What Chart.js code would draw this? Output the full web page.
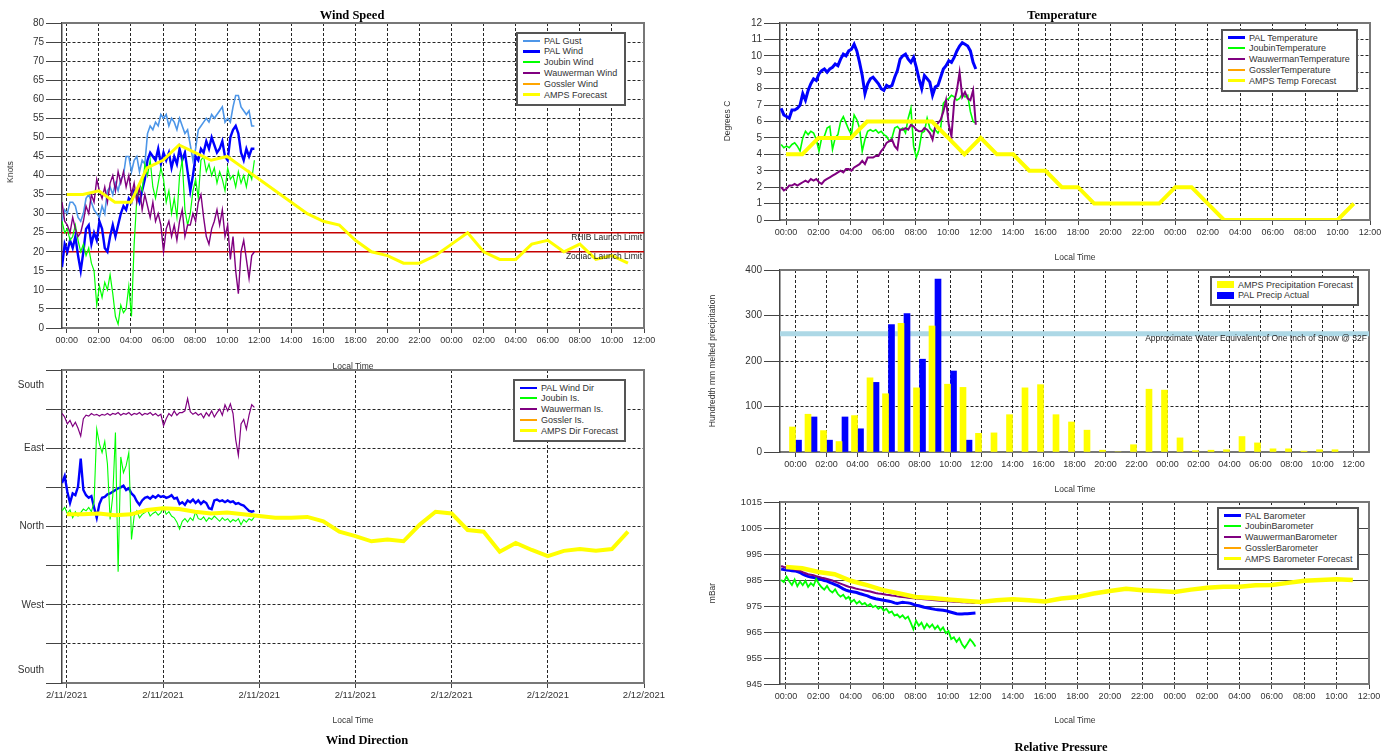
<!DOCTYPE html>
<html>
<head>
<meta charset="utf-8">
<title>Station Weather</title>
<script src="https://cdn.jsdelivr.net/npm/chart.js@4.4.1/dist/chart.umd.min.js"></script>
<style>
  body { margin: 0; background: #fff; font-family: "Liberation Sans", Arial, sans-serif; }
  #page { position: relative; width: 1389px; height: 753px; overflow: hidden; }
  #page canvas { position: absolute; left: 0; top: 0; }
  .title { position: absolute; transform: translate(-50%, -50%); font: bold 12.5px "Liberation Serif", "Times New Roman", serif; color: #000; white-space: nowrap; }
  .axis-title { position: absolute; transform: translate(-50%, -50%); font-size: 8.5px; color: #333; white-space: nowrap; }
  .axis-title.vertical { transform: translate(-50%, -50%) rotate(-90deg); }
  .legend { position: absolute; box-sizing: border-box; border: 2px solid #555; background: #fff; padding: 1.3px 0 0 5px; font-size: 9px; color: #333; }
  .legend .row { height: 10.8px; display: flex; align-items: center; white-space: nowrap; }
  .legend .swatch { display: inline-block; width: 17px; margin-right: 4px; flex: none; }
</style>
</head>
<body>
<div id="page">
  <canvas id="windSpeed" width="1389" height="753"></canvas>
  <canvas id="windDir" width="1389" height="753"></canvas>
  <canvas id="temperature" width="1389" height="753"></canvas>
  <canvas id="precip" width="1389" height="753"></canvas>
  <canvas id="pressure" width="1389" height="753"></canvas>

  <div class="title" style="left:352px;top:15px">Wind Speed</div>
  <div class="title" style="left:1062px;top:15px">Temperature</div>
  <div class="title" style="left:367px;top:740px">Wind Direction</div>
  <div class="title" style="left:1061px;top:747px">Relative Pressure</div>

  <div class="axis-title" style="left:353px;top:366px">Local Time</div>
  <div class="axis-title" style="left:353px;top:720px">Local Time</div>
  <div class="axis-title" style="left:1075px;top:257px">Local Time</div>
  <div class="axis-title" style="left:1075px;top:489px">Local Time</div>
  <div class="axis-title" style="left:1075px;top:720px">Local Time</div>

  <div class="axis-title vertical" style="left:10px;top:172px">Knots</div>
  <div class="axis-title vertical" style="left:727px;top:121px">Degrees C</div>
  <div class="axis-title vertical" style="left:712px;top:361px">Hundredth mm melted precipitation</div>
  <div class="axis-title vertical" style="left:712px;top:593px">mBar</div>
</div>

<script>
// Station observations, one sample every 10 minutes from 23:42 (hours since 00:00 on 2/11)
const OBS_START = -0.3;
const OBS_STEP = 1 / 6;

const palGust = [28,31,30,33,33,32,29,28,30,34, 35,33,31,30,29,32,30,36,37,35,
  38,36,39,40,45,45,41,44,45,41, 44,43,51,53,52,54,53,56,55,56,
  53,55,54,52,55,53,51,52,48,44, 47,52,53,54,55,54,56,55,56,57,
  58,54,55,54,58,61,61,58,57,56, 57,53,53];
const palWind = [16,22,20,23,21,24,19,15,20,26, 27,22,25,23,28,26,21,20,24,27,
  24,27,30,32,31,34,33,36,35,33, 36,39,44,46,45,44,47,43,46,44,
  46,42,45,43,47,44,46,41,36,40, 45,44,47,46,49,47,50,48,46,47,
  49,45,44,50,52,53,51,46,44,47, 45,47,47];
const joubinWind = [28,25,26,23,24,27,23,20,22,19, 21,17,15,6,11,8,12,10,14,9,
  3,1,6,4,5,11,3,22,34,38, 36,43,40,44,37,34,38,42,39,33,
  36,30,34,29,40,44,31,27,30,36, 39,34,44,45,41,43,40,42,38,41,
  39,36,42,39,40,37,41,38,40,37, 41,39,44];
const wauwermanWind = [33,28,27,25,29,26,24,25,28,32, 30,35,33,39,36,34,37,33,38,40,
  36,41,38,41,37,40,35,38,33,37, 31,35,32,29,33,28,30,27,20,26,
  28,24,27,23,28,31,24,27,27,30, 28,33,35,29,24,22,26,28,31,27,
  31,24,27,18,24,15,9,20,23,18, 13,19,20];

const palDir = [50,58,40,27,38,36,46,78,42,36, 33,35,22,10,26,33,34,37,38,40,
  42,44,45,47,42,44,38,35,29,25, 30,33,34,32,35,33,36,34,35,33,
  34,36,32,33,26,28,25,30,28,31, 27,30,26,29,27,21,20,30,31,29,
  30,28,30,28,29,26,27,25,24,21, 18,17,18];
const joubinDir = [18,22,15,19,10,17,12,16,20,18, 22,17,28,112,95,85,98,72,8,35,
  108,-52,80,62,70,85,-15,12,18,10, 14,16,19,12,15,17,13,16,23,14,
  17,12,10,5,-3,6,9,5,10,7, 17,9,8,11,6,10,8,12,9,6,
  10,7,9,5,8,6,9,2,8,5, 9,7,11];
const wauwermanDir = [130,126,118,122,115,120,113,104,124,128, 127,130,128,129,127,129,128,130,128,130,
  129,131,128,130,129,131,128,130,129,131, 128,130,129,131,128,130,127,129,116,124,
  130,127,133,128,131,131,133,147,132,129, 131,128,130,125,131,127,133,126,131,135,
  128,140,133,141,130,100,82,118,123,112, 128,140,137];

const palTemp = [6.8,6.4,6.3,6.2,6.7,6.7,6.8,7.0,7.7,7.3, 7.9,8.3,8.6,8.5,8.9,9.1,9.2,9.0,9.2,9.3,
  9.5,9.4,9.8,10.1,10.0,10.3,10.4,10.7,10.3,9.6, 8.8,7.7,8.3,8.6,8.7,8.5,8.3,8.0,7.9,8.2,
  8.1,8.2,8.7,9.1,9.8,10.0,10.1,9.8,9.6,9.9, 9.3,8.6,8.0,8.8,8.6,8.4,7.6,8.1,8.2,8.7,
  9.2,9.4,9.7,9.6,9.9,10.3,10.6,10.8,10.7,10.6, 10.3,9.6,9.2];
const joubinTemp = [4.6,4.4,4.5,4.4,4.6,4.7,4.5,4.2,5.0,5.4, 5.2,5.4,5.3,4.9,4.2,5.0,5.1,5.6,5.7,4.3,
  5.0,5.2,6.0,6.3,5.9,5.5,5.2,6.4,6.1,5.6, 4.2,4.9,5.4,5.5,5.4,5.5,5.3,5.4,5.2,5.1,
  4.8,5.0,5.6,5.7,5.5,5.6,5.3,6.2,6.8,4.5, 3.8,4.3,5.3,5.4,6.2,5.6,5.4,5.5,5.3,5.6,
  7.1,7.3,7.4,7.6,7.5,7.3,7.4,7.7,7.5,7.6, 6.6,6.0,5.9];
const wauwermanTemp = [2.0,1.8,1.9,2.1,2.1,2.2,2.1,2.2,2.3,2.4, 2.3,2.5,2.4,2.5,2.3,2.2,2.4,2.5,2.6,2.7,
  2.8,2.9,3.0,2.9,3.1,3.1,3.0,3.2,3.3,3.4, 3.6,3.4,3.8,3.8,3.8,3.9,3.9,4.2,4.4,4.7,
  4.8,4.9,4.5,4.3,5.5,5.5,5.6,5.5,5.8,5.7, 5.5,5.4,5.4,5.6,5.5,5.3,4.9,5.7,5.9,6.1,
  6.6,7.3,5.8,5.1,7.2,7.9,9.0,7.5,7.8,7.4, 7.3,7.9,5.8];

const palBaro = [989.2,989.0,988.8,988.7,988.6,988.5,988.2,987.9,987.2,986.8,
  986.4,986.1,986.0,985.7,985.5,985.2,984.8,984.6,984.1,983.7,
  983.2,982.8,982.2,981.6,981.1,980.8,980.6,980.4,980.2,979.8,
  979.5,979.2,978.9,978.4,978.1,977.8,977.6,977.4,977.2,977.0,
  976.8,976.6,976.2,976.0,976.2,976.4,976.3,976.2,976.0,975.6,
  975.3,975.1,974.8,974.5,974.3,974.1,973.9,973.7,973.6,973.5,
  973.4,973.2,972.9,972.6,972.3,972.0,971.9,971.9,972.0,972.0,
  972.1,972.2,972.3];
const joubinBaro = [985.0,984.2,986.3,984.5,983.1,985.2,982.6,984.4,983.0,984.7,
  982.3,983.8,982.8,985.4,983.5,982.2,981.3,982.7,981.0,980.2,
  981.4,979.6,978.6,979.3,977.8,978.5,976.6,977.4,975.9,976.8,
  975.6,976.2,975.0,975.8,974.6,975.1,973.9,974.6,973.2,973.9,
  972.4,972.9,971.3,971.8,970.6,971.4,970.1,970.9,968.6,966.0,
  969.3,967.4,968.6,966.3,968.1,966.8,967.9,966.2,967.4,965.6,
  966.8,964.6,965.4,962.3,963.0,961.2,962.6,960.3,958.9,960.5,
  962.2,961.0,959.4];
const wauwermanBaro = [990.4,990.0,989.9,989.6,989.4,989.0,988.8,988.6,988.0,987.6,
  987.2,987.0,986.8,986.5,986.2,985.9,985.7,985.4,985.1,984.8,
  984.4,984.0,983.6,983.2,982.8,982.4,982.2,981.9,981.6,981.4,
  981.2,981.0,980.8,980.6,980.3,980.0,979.8,979.7,979.5,979.3,
  979.2,979.0,978.9,978.7,978.6,978.5,978.4,978.2,978.1,978.0,
  977.9,977.8,977.7,977.6,977.5,977.4,977.3,977.2,977.1,977.0,
  976.9,976.9,976.8,976.7,976.6,976.6,976.5,976.4,976.4,976.3,
  976.3,976.2,976.2];

// AMPS forecast, hourly
const forecastHours = [0,1,2,3,4,5,6,7,8,9,10,11,12,13,14,15,16,17,18,19,20,21,22,23,24,25,26,27,28,29,30,31,32,33,34,35];
const windForecast = [35,35,36,33,33,42,44,48,46,44, 45,42,39,36,33,30,28,27,23,20, 19,17,17,19,22,25,20,18,18,22, 23,20,22,18,19,17];
const dirForecast = [14,14,15,13,14,19,21,20,17,15, 16,14,12,10,10,11,6,-6,-11,-17, -15,-17,2,17,15,-4,-6,-29,-19,-27, -34,-28,-26,-28,-26,-6];
const tempForecast = [4,4,5,5,5,6,6,6,6,6, 5,4,5,4,4,3,3,2,2,1, 1,1,1,1,2,2,1,0,0,0, 0,0,0,0,0,1];
const baroForecast = [990.0,989.5,988.1,987.2,984.7,983.0,981.1,979.8,978.5,978.1,
  977.5,977.0,976.5,977.2,977.6,977.2,976.7,977.9,978.5,979.8,
  980.8,981.6,981.1,980.8,980.4,981.3,982.0,982.4,982.4,983.0,
  983.1,983.9,984.7,985.0,985.3,985.0];
const precipForecast = [55,83,47,23,80,163,128,283,141,277, 149,142,41,42,82,141,148,82,66,48, 4,0,16,138,136,31,3,4,5,34, 20,7,7,2,5,5];
const precipHours = [0,1,2,3,4,5,6,7,8,9,10,11];
const precipActual = [26,77,26,77,51,153,280,304,204,380,178,26];

const launchLimits = [25, 20];
const launchLimitNames = ['RHIB Launch Limit', 'Zodiac Launch Limit'];
const snowEquivalent = 260;
const snowNote = 'Approximate Water Equivalent of One Inch of Snow @ 32F';

// axis ticks
const hourTicks = [0,2,4,6,8,10,12,14,16,18,20,22,24,26,28,30,32,34,36];
const hourLabels = ['00:00','02:00','04:00','06:00','08:00','10:00','12:00','14:00','16:00','18:00',
  '20:00','22:00','00:00','02:00','04:00','06:00','08:00','10:00','12:00'];
const dateTicks = [0,6,12,18,24,30,36];
const dateLabels = ['2/11/2021','2/11/2021','2/11/2021','2/11/2021','2/12/2021','2/12/2021','2/12/2021'];
const compassTicks = [-180,-165,-135,-90,-45,0,45,90,135,163,180];
const compassLabels = ['','South','','West','','North','','East','','South',''];

const obsHours = palGust.map((_, i) => OBS_START + i * OBS_STEP);

const W = 1389, H = 753;
const Y_AXIS_W = 60, X_AXIS_H = 22;
const TEXT = '#333';
const GRID = 'rgba(0,0,0,0.85)';
const FONT = '"Liberation Sans", Arial, sans-serif';

Chart.defaults.font.family = FONT;
Chart.defaults.color = TEXT;

// top and right edges of the plot box
const framePlugin = {
  id: 'frame',
  beforeDatasetsDraw(chart) {
    const { ctx, chartArea: a } = chart;
    ctx.save();
    ctx.strokeStyle = '#777';
    ctx.lineWidth = 2;
    ctx.beginPath();
    ctx.moveTo(a.left, a.top);
    ctx.lineTo(a.right, a.top);
    ctx.lineTo(a.right, a.bottom);
    ctx.stroke();
    ctx.restore();
  }
};

// captions that sit under a horizontal reference line, right aligned
const lineNotesPlugin = {
  id: 'lineNotes',
  afterDatasetsDraw(chart, args, opts) {
    if (!opts.items || !opts.items.length) return;
    const { ctx, chartArea: a, scales: { y } } = chart;
    ctx.save();
    ctx.font = '8.5px ' + FONT;
    ctx.fillStyle = '#222';
    ctx.textAlign = 'right';
    ctx.textBaseline = 'top';
    opts.items.forEach((n) => ctx.fillText(n.text, a.right - 2, y.getPixelForValue(n.value) + 1));
    ctx.restore();
  }
};

Chart.register(framePlugin, lineNotesPlugin);

const plotArea = (l, t, r, b) => ({ left: l - Y_AXIS_W, top: t, right: W - r, bottom: H - b - X_AXIS_H });

const xAxis = (min, max, ticks, labels, fontSize) => ({
  type: 'linear',
  min,
  max,
  offset: false,
  afterBuildTicks: (s) => { s.ticks = ticks.map((value) => ({ value })); },
  afterFit: (s) => { s.height = X_AXIS_H; s.paddingLeft = 0; s.paddingRight = 0; },
  ticks: { autoSkip: false, maxRotation: 0, padding: 2, font: { size: fontSize }, color: TEXT, callback: (v, i) => labels[i] },
  grid: { color: GRID, lineWidth: 1, tickLength: 5, tickColor: '#444', tickBorderDash: [], offset: false },
  border: { color: '#777', width: 2, dash: [3, 2] }
});

const yAxis = (min, max, step, opts = {}) => ({
  type: 'linear',
  min,
  max,
  afterBuildTicks: opts.ticks ? (s) => { s.ticks = opts.ticks.map((value) => ({ value })); } : undefined,
  afterFit: (s) => { s.width = Y_AXIS_W; s.paddingTop = 0; s.paddingBottom = 0; },
  ticks: {
    stepSize: step,
    autoSkip: false,
    padding: 2,
    font: { size: opts.fontSize || 10 },
    color: TEXT,
    callback: opts.labels ? (v, i) => opts.labels[i] : (v) => String(v)
  },
  grid: {
    color: opts.gridColor || GRID,
    tickColor: opts.tickColor || '#444',
    lineWidth: 1,
    tickLength: 16,
    tickBorderDash: []
  },
  border: { color: '#444', width: 1.5, dash: opts.solid ? [] : [3, 2] }
});

const series = (label, color, width, xs, ys) => ({
  label,
  data: ys.map((y, i) => ({ x: xs[i], y })),
  borderColor: color,
  backgroundColor: color,
  borderWidth: width,
  pointRadius: 0,
  pointHoverRadius: 0,
  fill: false,
  tension: 0
});

// later series are painted on top, like the legend order reads
const paintInOrder = (list) => list.map((d, i) => ({ ...d, order: list.length - i }));

const flatLine = (x0, x1, value, color, width) => ({
  data: [{ x: x0, y: value }, { x: x1, y: value }],
  borderColor: color,
  borderWidth: width,
  pointRadius: 0,
  pointHoverRadius: 0,
  order: 99
});

const baseOptions = (area, scales, notes) => ({
  responsive: false,
  animation: false,
  events: [],
  layout: { padding: area },
  plugins: {
    legend: { display: false },
    tooltip: { enabled: false },
    lineNotes: { items: notes || [] }
  },
  scales
});

// Wind speed
const windSets = paintInOrder([
  series('PAL Gust', '#4d96e8', 1.6, obsHours, palGust),
  series('PAL Wind', '#0000ff', 2.4, obsHours, palWind),
  series('Joubin Wind', '#00ff00', 1.2, obsHours, joubinWind),
  series('Wauwerman Wind', '#800080', 1.4, obsHours, wauwermanWind),
  series('Gossler Wind', '#ffa500', 1.5, [], []),
  series('AMPS Forecast', '#ffff00', 3, forecastHours, windForecast)
]);
launchLimits.forEach((v) => windSets.push(flatLine(-0.3, 36, v, '#c40000', 1.5)));

const windSpeedChart = new Chart(document.getElementById('windSpeed'), {
  type: 'line',
  data: { datasets: windSets },
  options: baseOptions(plotArea(62, 23, 644, 328), {
    x: xAxis(-0.3, 36, hourTicks, hourLabels, 9),
    y: yAxis(0, 80, 5)
  }, launchLimits.map((v, i) => ({ value: v, text: launchLimitNames[i] })))
});

// Wind direction
const windDirChart = new Chart(document.getElementById('windDir'), {
  type: 'line',
  data: {
    datasets: paintInOrder([
      series('PAL Wind Dir', '#0000ff', 2.4, obsHours, palDir),
      series('Joubin Is.', '#00ff00', 1.1, obsHours, joubinDir),
      series('Wauwerman Is.', '#800080', 1.2, obsHours, wauwermanDir),
      series('Gossler Is.', '#ffa500', 1.5, [], []),
      series('AMPS Dir Forecast', '#ffff00', 4, forecastHours, dirForecast)
    ])
  },
  options: baseOptions(plotArea(62, 370, 644, 683), {
    x: xAxis(-0.3, 36, dateTicks, dateLabels, 9.5),
    y: yAxis(-180, 180, 45, {
      ticks: compassTicks,
      labels: compassLabels,
      gridColor: (c) => (compassLabels[c.index] === 'South' ? 'rgba(0,0,0,0)' : GRID),
      tickColor: (c) => (compassLabels[c.index] === 'South' ? 'rgba(0,0,0,0)' : '#444')
    })
  })
});

// Temperature
const temperatureChart = new Chart(document.getElementById('temperature'), {
  type: 'line',
  data: {
    datasets: paintInOrder([
      series('PAL Temperature', '#0000ff', 3, obsHours, palTemp),
      series('JoubinTemperature', '#00ff00', 1.6, obsHours, joubinTemp),
      series('WauwermanTemperature', '#800080', 2, obsHours, wauwermanTemp),
      series('GosslerTemperature', '#ffa500', 1.5, [], []),
      series('AMPS Temp Forecast', '#ffff00', 4, forecastHours, tempForecast)
    ])
  },
  options: baseOptions(plotArea(780, 23, 1370, 220), {
    x: xAxis(-0.37, 36, hourTicks, hourLabels, 9),
    y: yAxis(0, 12, 1)
  })
});

// Precipitation
const precipChart = new Chart(document.getElementById('precip'), {
  type: 'bar',
  data: {
    datasets: [
      {
        label: 'AMPS Precipitation Forecast',
        data: forecastHours.map((h, i) => ({ x: h, y: precipForecast[i] })),
        backgroundColor: '#ffff00',
        barThickness: 6,
        order: 0
      },
      {
        label: 'PAL Precip Actual',
        data: precipHours.map((h, i) => ({ x: h, y: precipActual[i] })),
        backgroundColor: '#0000ff',
        barThickness: 6,
        order: 0
      },
      {
        type: 'line',
        data: [{ x: -1, y: snowEquivalent }, { x: 37, y: snowEquivalent }],
        borderColor: '#add8e6',
        borderWidth: 5,
        pointRadius: 0,
        pointHoverRadius: 0,
        order: 1
      }
    ]
  },
  options: baseOptions(plotArea(780, 270, 1369, 452), {
    x: xAxis(-1, 37, hourTicks, hourLabels, 9),
    y: yAxis(0, 400, 100)
  }, [{ value: snowEquivalent, text: snowNote }])
});

// Barometric pressure
const pressureChart = new Chart(document.getElementById('pressure'), {
  type: 'line',
  data: {
    datasets: paintInOrder([
      series('PAL Barometer', '#0000ff', 3, obsHours, palBaro),
      series('JoubinBarometer', '#00ff00', 1.8, obsHours, joubinBaro),
      series('WauwermanBarometer', '#800080', 2, obsHours, wauwermanBaro),
      series('GosslerBarometer', '#ffa500', 1.5, [], []),
      series('AMPS Barometer Forecast', '#ffff00', 4.5, forecastHours, baroForecast)
    ])
  },
  options: baseOptions(plotArea(780, 502, 1369, 684), {
    x: xAxis(-0.37, 36, hourTicks, hourLabels, 9),
    y: yAxis(945, 1015, 10, { solid: true, gridColor: '#444', fontSize: 9.5 })
  })
});

// Boxed legends laid over each plot, built from the chart's own datasets
const addLegend = (chart, box, bars) => {
  const el = document.createElement('div');
  el.className = 'legend';
  Object.assign(el.style, { left: box[0] + 'px', top: box[1] + 'px', width: box[2] + 'px', height: box[3] + 'px' });
  chart.data.datasets
    .filter((d) => d.label)
    .sort((a, b) => (b.order || 0) - (a.order || 0))
    .forEach((d) => {
      const row = document.createElement('div');
      row.className = 'row';
      const sw = document.createElement('span');
      sw.className = 'swatch';
      sw.style.height = bars ? '7px' : Math.min(3, Math.max(2, d.borderWidth)) + 'px';
      sw.style.background = bars ? d.backgroundColor : d.borderColor;
      row.appendChild(sw);
      row.appendChild(document.createTextNode(d.label));
      el.appendChild(row);
    });
  document.getElementById('page').appendChild(el);
};

addLegend(windSpeedChart, [516, 32, 110, 74]);
addLegend(windDirChart, [513, 379, 113, 63]);
addLegend(temperatureChart, [1221, 29, 137, 63]);
addLegend(precipChart, [1210, 276, 149, 30], true);
addLegend(pressureChart, [1217, 507, 142, 63]);
</script>
</body>
</html>
